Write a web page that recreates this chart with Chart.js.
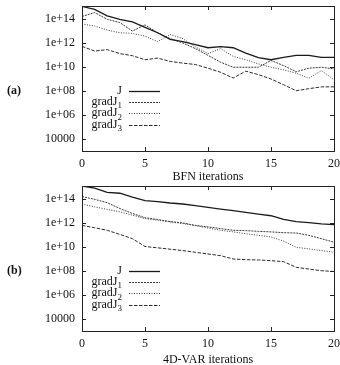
<!DOCTYPE html>
<html>
<head>
<meta charset="utf-8">
<script src="https://cdn.jsdelivr.net/npm/chart.js@4.4.1/dist/chart.umd.min.js"></script>
<style>
  html, body { margin: 0; padding: 0; background: #fff; width: 340px; height: 365px; overflow: hidden; }
  .panel { position: absolute; left: 0; width: 340px; height: 190px; }
  #p1 { top: 0; }
  #p2 { top: 180px; }
</style>
</head>
<body>
<div class="panel" id="p1"><canvas id="c1" width="340" height="190"></canvas></div>
<div class="panel" id="p2"><canvas id="c2" width="340" height="190"></canvas></div>
<script>
// ---- data ----
const iterations = [0,1,2,3,4,5,6,7,8,9,10,11,12,13,14,15,16,17,18,19,20];
const seriesNames = ['J', 'gradJ1', 'gradJ2', 'gradJ3'];
const panelLabels = ['(a)', '(b)'];
const xTitles = ['BFN iterations', '4D-VAR iterations'];
const xTickValues = [0, 5, 10, 15, 20];
const yTickValues = [1e4, 1e6, 1e8, 1e10, 1e12, 1e14];
const yTickLabels = ['10000', '1e+06', '1e+08', '1e+10', '1e+12', '1e+14'];

// (a) BFN
const bfnJ      = [1.1e15, 6.3e14, 1.8e14, 9.3e13, 5.6e13, 2.0e13, 7.1e12, 2.0e12, 1.3e12, 7.4e11, 4.0e11, 5.0e11, 4.0e11, 1.4e11, 5.9e10, 4.0e10, 6.3e10, 9.3e10, 9.3e10, 6.3e10, 6.3e10];
const bfnGrad1  = [1.6e14, 3.4e14, 9.3e13, 5.0e13, 9.8e12, 3.2e13, 7.1e12, 2.3e12, 1.0e12, 3.4e11, 9.3e10, 2.5e10, 9.5e9, 9.5e9, 9.5e9, 3.5e10, 1.3e10, 4.0e9, 7.9e9, 9.5e9, 6.9e9];
const bfnGrad2  = [3.8e13, 2.6e13, 1.2e13, 7.1e12, 6.3e12, 3.7e12, 1.3e12, 5.0e12, 2.3e12, 4.7e11, 1.3e11, 3.4e11, 7.6e10, 4.0e10, 1.8e10, 9.5e9, 5.8e9, 3.0e9, 1.15e9, 5.0e9, 8.7e8];
const bfnGrad3  = [5.2e11, 2.1e11, 2.8e11, 1.3e11, 8.7e10, 4.0e10, 5.5e10, 2.9e10, 2.1e10, 1.6e10, 7.9e9, 3.6e9, 1.2e9, 4.5e9, 2.3e9, 1.0e9, 3.3e8, 1.05e8, 1.55e8, 2.2e8, 2.2e8];

// (b) 4D-VAR
const varJ      = [1.2e15, 8.0e14, 3.6e14, 3.0e14, 1.4e14, 7.2e13, 6.0e13, 4.6e13, 3.8e13, 2.8e13, 2.0e13, 1.45e13, 1.05e13, 7.6e12, 5.5e12, 4.0e12, 2.0e12, 1.3e12, 1.07e12, 8.3e11, 7.4e11];
const varGrad1  = [1.6e14, 9.3e13, 4.9e13, 1.6e13, 6.2e12, 2.7e12, 1.95e12, 1.3e12, 1.0e12, 6.3e11, 4.7e11, 3.4e11, 2.45e11, 2.3e11, 2.0e11, 1.8e11, 1.55e11, 1.45e11, 9.3e10, 4.9e10, 2.5e10];
const varGrad2  = [3.8e13, 2.2e13, 1.35e13, 8.5e12, 4.5e12, 2.3e12, 1.7e12, 1.23e12, 8.9e11, 6.0e11, 3.8e11, 2.45e11, 1.8e11, 1.26e11, 9.3e10, 6.8e10, 3.1e10, 9.5e9, 6.9e9, 5.0e9, 3.6e9];
const varGrad3  = [6.3e11, 4.0e11, 2.45e11, 1.12e11, 4.9e10, 1.1e10, 8.5e9, 6.5e9, 5.0e9, 3.6e9, 2.6e9, 1.9e9, 1.0e9, 8.7e8, 8.3e8, 7.2e8, 6.0e8, 2.0e8, 1.45e8, 1.05e8, 9.1e7];

// ---- styles ----
const lineStyles = [
  { color: '#1a1a1a', width: 1.3, dash: [] },
  { color: '#3a3a3a', width: 1, dash: [2, 1] },
  { color: '#3a3a3a', width: 1, dash: [1, 1.5] },
  { color: '#2a2a2a', width: 1, dash: [3.5, 1.5] }
];
const FONT = '"Liberation Serif", "DejaVu Serif", serif';

function makeDatasets(arrs) {
  return arrs.map((arr, k) => ({
    label: seriesNames[k],
    data: iterations.map((x, i) => ({ x: x, y: arr[i] })),
    borderColor: lineStyles[k].color,
    borderWidth: lineStyles[k].width,
    borderDash: lineStyles[k].dash,
    pointRadius: 0,
    tension: 0,
    fill: false
  }));
}

const framePlugin = {
  id: 'frame',
  afterDatasetsDraw(chart) {
    const ctx = chart.ctx;
    const a = chart.chartArea;
    const xs = chart.scales.x, ys = chart.scales.y;
    ctx.save();
    ctx.strokeStyle = '#222';
    ctx.lineWidth = 1;
    ctx.strokeRect(Math.round(a.left) + 0.5, Math.round(a.top) + 0.5, Math.round(a.right - a.left), Math.round(a.bottom - a.top));
    const tl = 4;
    ctx.beginPath();
    xTickValues.forEach(v => {
      const px = Math.round(xs.getPixelForValue(v)) + 0.5;
      ctx.moveTo(px, a.bottom); ctx.lineTo(px, a.bottom - tl);
      ctx.moveTo(px, a.top); ctx.lineTo(px, a.top + tl);
    });
    yTickValues.forEach(v => {
      const py = Math.round(ys.getPixelForValue(v)) + 0.5;
      ctx.moveTo(a.left, py); ctx.lineTo(a.left + tl, py);
      ctx.moveTo(a.right, py); ctx.lineTo(a.right - tl, py);
    });
    ctx.stroke();

    // legend (inside, lower left)
    const rightText = a.left + 40;
    const x0 = a.left + 47, x1 = a.left + 78;
    const y0 = a.top + 84.7, dy = 11.3;
    chart.data.datasets.forEach((ds, k) => {
      const y = y0 + k * dy;
      ctx.fillStyle = '#111';
      ctx.textBaseline = 'middle';
      ctx.textAlign = 'left';
      const name = ds.label;
      let main = name, sub = '';
      const m = name.match(/^(gradJ)(\d)$/);
      if (m) { main = m[1]; sub = m[2]; }
      ctx.font = '12px ' + FONT;
      const wMain = ctx.measureText(main).width;
      ctx.font = '9px ' + FONT;
      const wSub = sub ? ctx.measureText(sub).width : 0;
      const start = rightText - wMain - wSub;
      ctx.font = '12px ' + FONT;
      ctx.fillText(main, start, y);
      if (sub) {
        ctx.font = '9px ' + FONT;
        ctx.fillText(sub, start + wMain, y + 4);
      }
      ctx.beginPath();
      ctx.strokeStyle = ds.borderColor;
      ctx.lineWidth = ds.borderWidth;
      ctx.setLineDash(ds.borderDash);
      ctx.moveTo(x0, Math.round(y) + 0.5);
      ctx.lineTo(x1, Math.round(y) + 0.5);
      ctx.stroke();
      ctx.setLineDash([]);
    });

    // panel label
    ctx.font = 'bold 12px ' + FONT;
    ctx.fillStyle = '#111';
    ctx.textAlign = 'left';
    ctx.textBaseline = 'middle';
    ctx.fillText(chart.options.plugins.frame.panel, 7, ys.getPixelForValue(1e8));
    ctx.restore();
  }
};

function makeChart(id, arrs, p) {
  return new Chart(document.getElementById(id), {
    type: 'line',
    data: { datasets: makeDatasets(arrs) },
    options: {
      responsive: false,
      animation: false,
      devicePixelRatio: 1,
      layout: { padding: { left: 0, right: 6, top: 6, bottom: 0 } },
      plugins: {
        legend: { display: false },
        tooltip: { enabled: false },
        frame: { panel: panelLabels[p] }
      },
      scales: {
        x: {
          type: 'linear',
          min: 0, max: 20,
          afterBuildTicks: s => { s.ticks = xTickValues.map(v => ({ value: v })); },
          afterFit: s => { s.height = 39; s.paddingLeft = 0; s.paddingRight = 0; },
          grid: { display: false, drawTicks: false },
          border: { display: false },
          ticks: { padding: 6, color: '#111', font: { family: FONT, size: 12 }, maxRotation: 0, autoSkip: false },
          title: { display: true, text: xTitles[p], color: '#111', font: { family: FONT, size: 12 }, padding: { top: 0, bottom: p === 0 ? 5.8 : 2.8 } }
        },
        y: {
          type: 'logarithmic',
          min: 1000, max: 1.2e15,
          afterBuildTicks: s => { s.ticks = yTickValues.map(v => ({ value: v })); },
          afterFit: s => { s.width = 82; s.paddingTop = 0; s.paddingBottom = 0; },
          grid: { display: false, drawTicks: false },
          border: { display: false },
          ticks: {
            padding: 7, color: '#111', font: { family: FONT, size: 12 }, autoSkip: false,
            callback: (v) => { const i = yTickValues.indexOf(v); return i >= 0 ? yTickLabels[i] : ''; }
          }
        }
      }
    },
    plugins: [framePlugin]
  });
}

makeChart('c1', [bfnJ, bfnGrad1, bfnGrad2, bfnGrad3], 0);
makeChart('c2', [varJ, varGrad1, varGrad2, varGrad3], 1);
</script>
</body>
</html>
